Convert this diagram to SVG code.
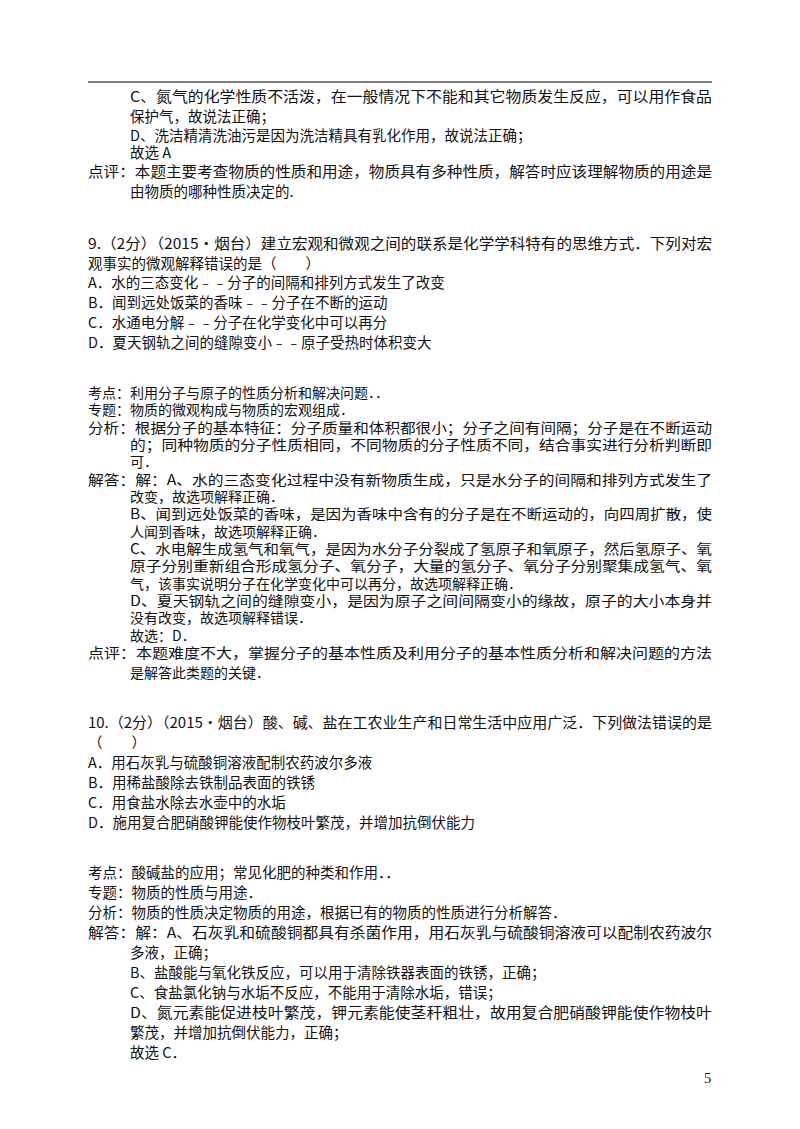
<svg xmlns="http://www.w3.org/2000/svg" width="800" height="1129" viewBox="0 0 800 1129">
<style>text{font-family:"Noto Sans CJK SC","Liberation Serif",serif;font-size:14.5px;fill:#111}.s{font-size:14px}</style>
<rect width="800" height="1129" fill="#fff"/>
<line x1="88" y1="82" x2="712" y2="82" stroke="#000" stroke-width="1.2"/>
<g id="prev">
<text x="130" y="102" textLength="582" lengthAdjust="spacingAndGlyphs">C、氮气的化学性质不活泼，在一般情况下不能和其它物质发生反应，可以用作食品</text>
<text x="130" y="122">保护气，故说法正确；</text>
<text x="130" y="141">D、洗洁精清洗油污是因为洗洁精具有乳化作用，故说法正确；</text>
<text x="130" y="158">故选 A</text>
<text x="88" y="177" textLength="624" lengthAdjust="spacingAndGlyphs">点评：本题主要考查物质的性质和用途，物质具有多种性质，解答时应该理解物质的用途是</text>
<text x="130" y="197">由物质的哪种性质决定的.</text>
</g>
<g id="q9">
<text x="88" y="249" textLength="624" lengthAdjust="spacingAndGlyphs">9.（2分）（2015•烟台）建立宏观和微观之间的联系是化学学科特有的思维方式．下列对宏</text>
<text x="88" y="269">观事实的微观解释错误的是（　　）</text>
<text x="88" y="288">A．水的三态变化﹣﹣分子的间隔和排列方式发生了改变</text>
<text x="88" y="308">B．闻到远处饭菜的香味﹣﹣分子在不断的运动</text>
<text x="88" y="328">C．水通电分解﹣﹣分子在化学变化中可以再分</text>
<text x="88" y="348">D．夏天钢轨之间的缝隙变小﹣﹣原子受热时体积变大</text>
<g class="s">
<text class="s" x="88" y="398">考点：利用分子与原子的性质分析和解决问题．．</text>
<text class="s" x="88" y="415">专题：物质的微观构成与物质的宏观组成．</text>
<text class="s" x="88" y="433" textLength="624" lengthAdjust="spacingAndGlyphs">分析：根据分子的基本特征：分子质量和体积都很小；分子之间有间隔；分子是在不断运动</text>
<text class="s" x="130" y="450" textLength="582" lengthAdjust="spacingAndGlyphs">的；同种物质的分子性质相同，不同物质的分子性质不同，结合事实进行分析判断即</text>
<text class="s" x="130" y="467">可．</text>
<text class="s" x="88" y="485" textLength="624" lengthAdjust="spacingAndGlyphs">解答：解：A、水的三态变化过程中没有新物质生成，只是水分子的间隔和排列方式发生了</text>
<text class="s" x="130" y="502">改变，故选项解释正确．</text>
<text class="s" x="130" y="519" textLength="582" lengthAdjust="spacingAndGlyphs">B、闻到远处饭菜的香味，是因为香味中含有的分子是在不断运动的，向四周扩散，使</text>
<text class="s" x="130" y="537">人闻到香味，故选项解释正确．</text>
<text class="s" x="130" y="554" textLength="582" lengthAdjust="spacingAndGlyphs">C、水电解生成氢气和氧气，是因为水分子分裂成了氢原子和氧原子，然后氢原子、氧</text>
<text class="s" x="130" y="571" textLength="582" lengthAdjust="spacingAndGlyphs">原子分别重新组合形成氢分子、氧分子，大量的氢分子、氧分子分别聚集成氢气、氧</text>
<text class="s" x="130" y="589">气，该事实说明分子在化学变化中可以再分，故选项解释正确．</text>
<text class="s" x="130" y="606" textLength="582" lengthAdjust="spacingAndGlyphs">D、夏天钢轨之间的缝隙变小，是因为原子之间间隔变小的缘故，原子的大小本身并</text>
<text class="s" x="130" y="623">没有改变，故选项解释错误．</text>
<text class="s" x="130" y="641">故选：D．</text>
<text class="s" x="88" y="658" textLength="624" lengthAdjust="spacingAndGlyphs">点评：本题难度不大，掌握分子的基本性质及利用分子的基本性质分析和解决问题的方法</text>
<text class="s" x="130" y="678">是解答此类题的关键．</text>
</g>
</g>
<g id="q10">
<text x="88" y="728" textLength="624" lengthAdjust="spacingAndGlyphs">10.（2分）（2015•烟台）酸、碱、盐在工农业生产和日常生活中应用广泛．下列做法错误的是</text>
<text x="88" y="748">（　　）</text>
<text x="88" y="768">A．用石灰乳与硫酸铜溶液配制农药波尔多液</text>
<text x="88" y="788">B．用稀盐酸除去铁制品表面的铁锈</text>
<text x="88" y="808">C．用食盐水除去水壶中的水垢</text>
<text x="88" y="828">D．施用复合肥硝酸钾能使作物枝叶繁茂，并增加抗倒伏能力</text>
<text x="88" y="878">考点：酸碱盐的应用；常见化肥的种类和作用．．</text>
<text x="88" y="898">专题：物质的性质与用途．</text>
<text x="88" y="918">分析：物质的性质决定物质的用途，根据已有的物质的性质进行分析解答．</text>
<text x="88" y="938" textLength="624" lengthAdjust="spacingAndGlyphs">解答：解：A、石灰乳和硫酸铜都具有杀菌作用，用石灰乳与硫酸铜溶液可以配制农药波尔</text>
<text x="130" y="958">多液，正确；</text>
<text x="130" y="978">B、盐酸能与氧化铁反应，可以用于清除铁器表面的铁锈，正确；</text>
<text x="130" y="998">C、食盐氯化钠与水垢不反应，不能用于清除水垢，错误；</text>
<text x="130" y="1018" textLength="582" lengthAdjust="spacingAndGlyphs">D、氮元素能促进枝叶繁茂，钾元素能使茎秆粗壮，故用复合肥硝酸钾能使作物枝叶</text>
<text x="130" y="1038">繁茂，并增加抗倒伏能力，正确；</text>
<text x="130" y="1058">故选 C．</text>
</g>
<text x="704" y="1083" style="font-family:'Liberation Serif',serif">5</text>
</svg>
